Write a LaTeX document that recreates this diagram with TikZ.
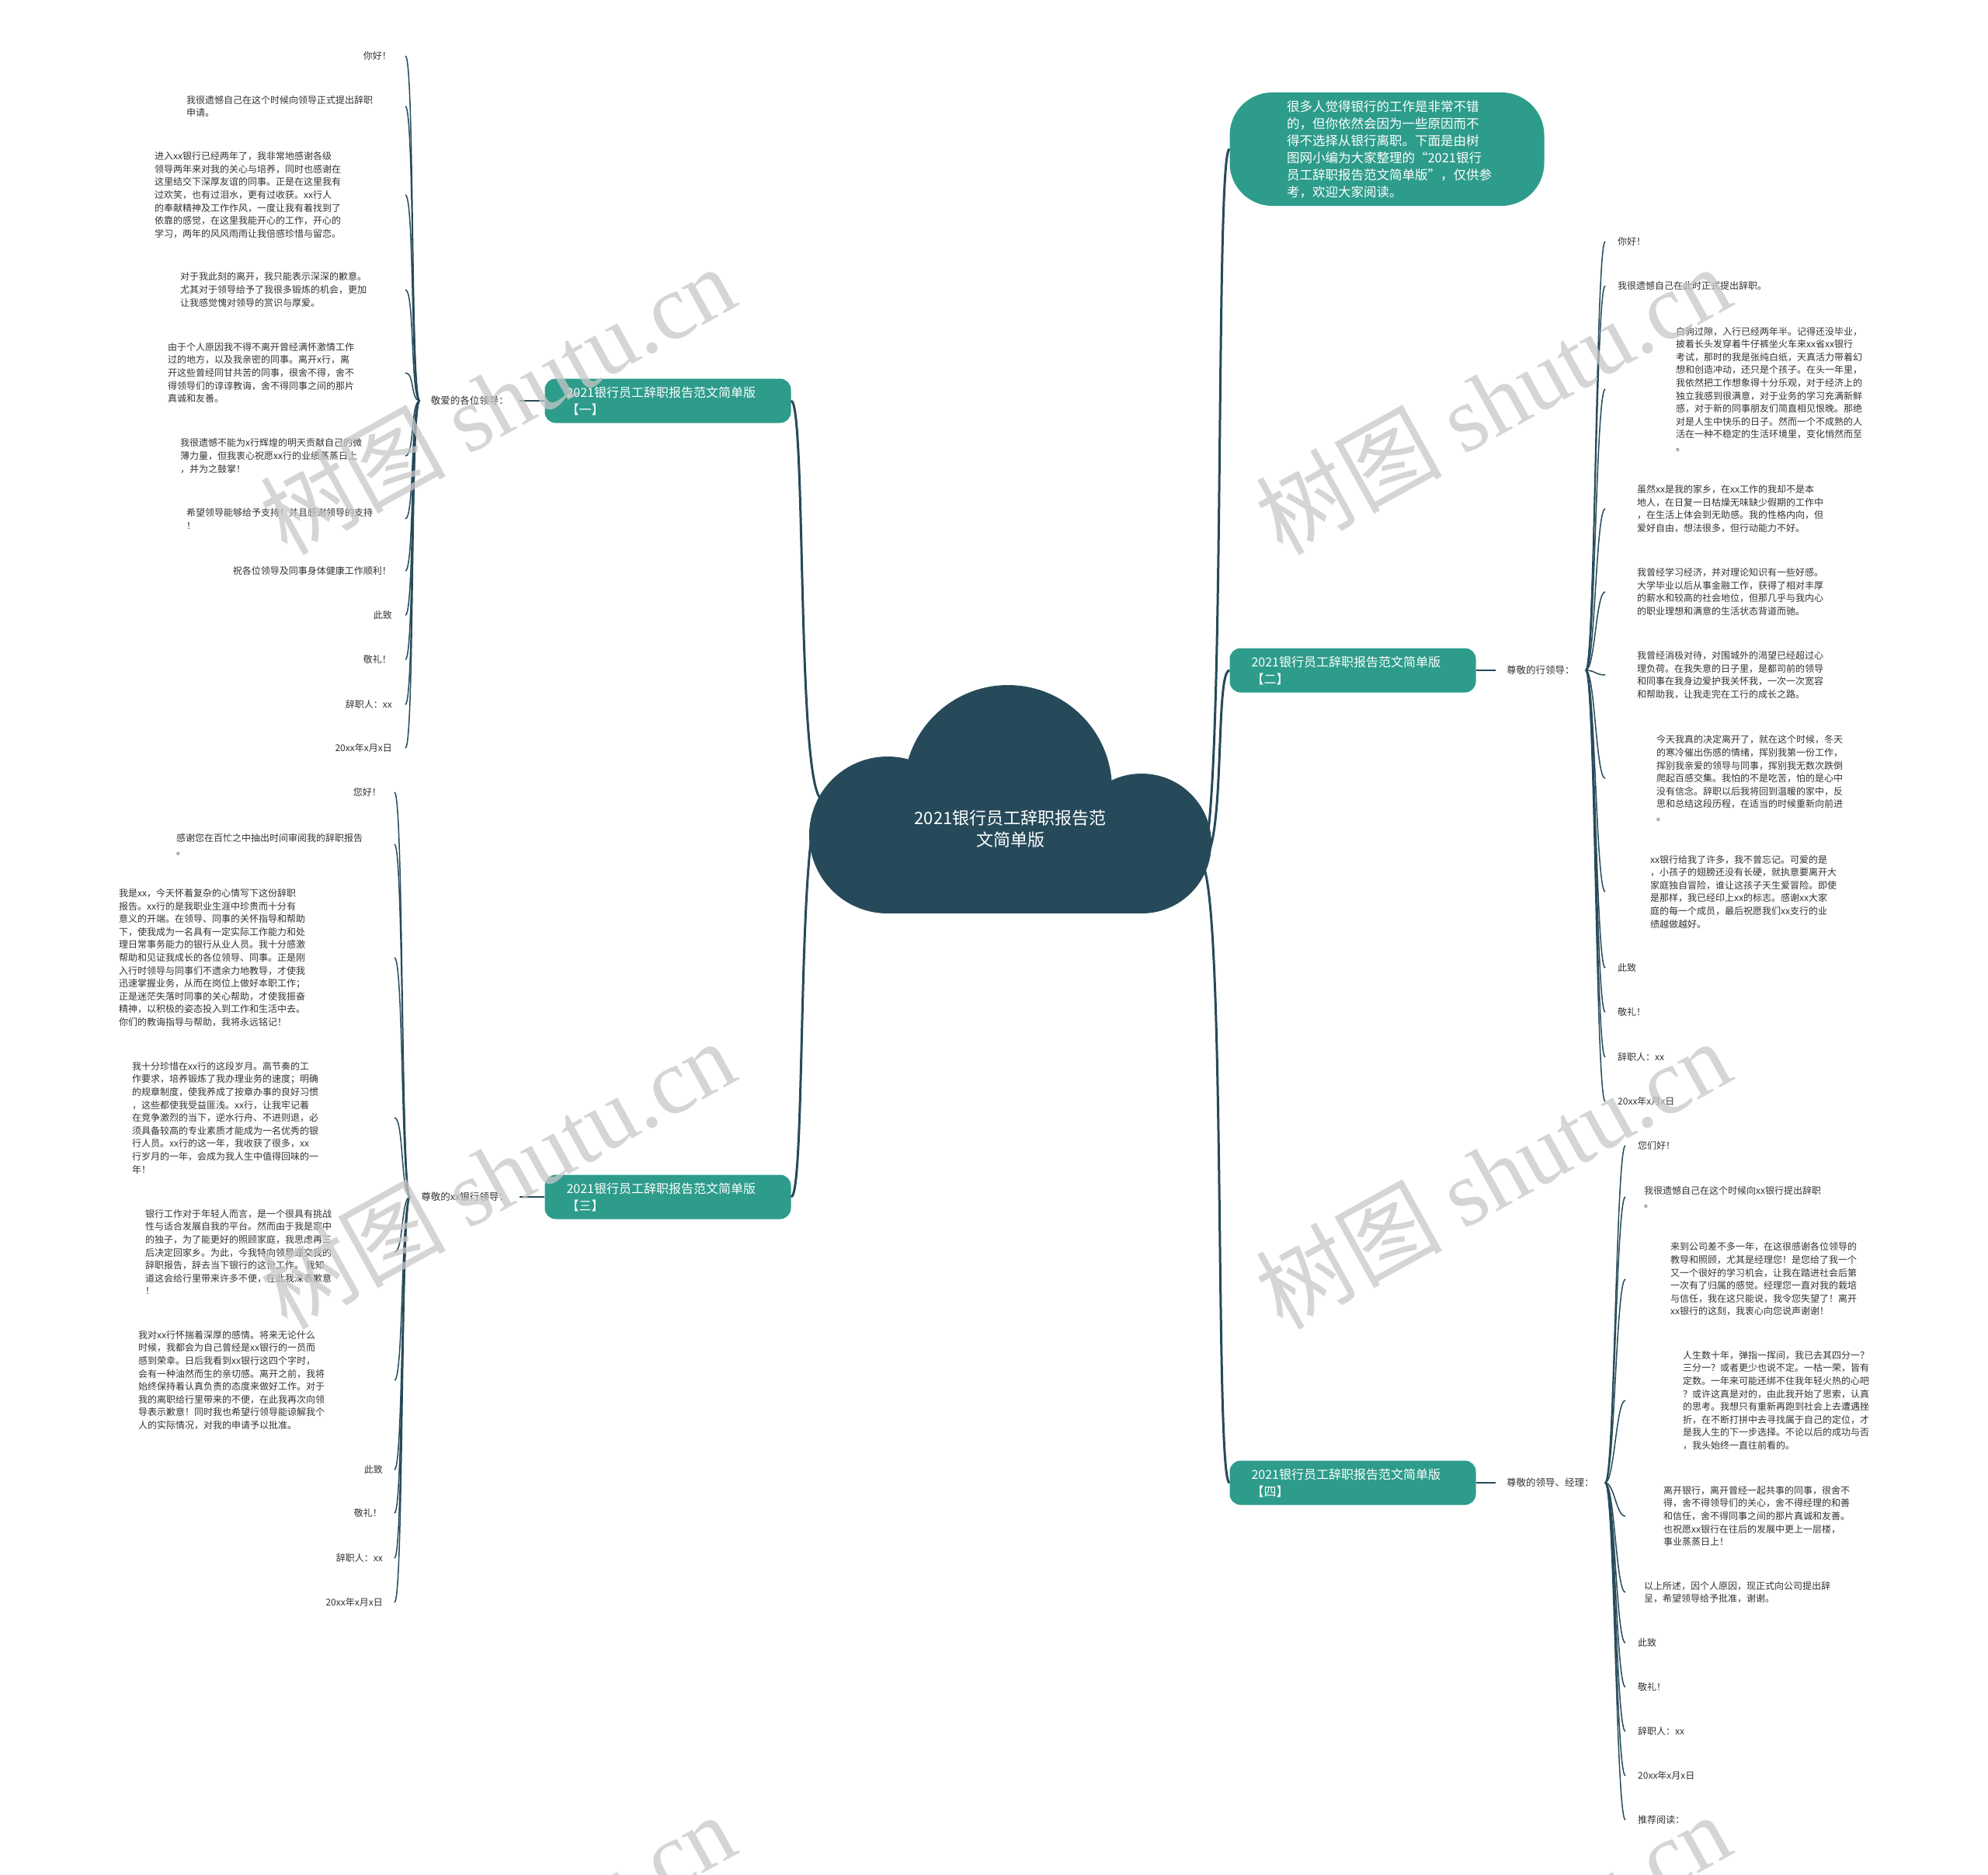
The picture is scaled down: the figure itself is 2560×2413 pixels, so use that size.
\documentclass[tikz,border=0pt]{standalone}
\usepackage{fontspec}
\setmainfont{Noto Sans CJK SC}
\newfontfamily\wmlatin{Liberation Serif}
\usetikzlibrary{calc}
\definecolor{cloudblue}{HTML}{264A5A}
\definecolor{branchteal}{HTML}{2D9C8B}
\definecolor{leafgray}{HTML}{333333}
\definecolor{wmgray}{HTML}{C8C8C8}
\tikzstyle{leaf}=[inner sep=0pt,text=leafgray,font=\fontsize{12}{16.6}\selectfont,align=left]
\tikzstyle{greet}=[leaf,anchor=east]
\tikzstyle{para}=[leaf,anchor=west]
\tikzstyle{salute}=[text=leafgray,font=\fontsize{12.5}{15}\selectfont,inner xsep=14pt,inner ysep=2pt]
\tikzstyle{branch}=[fill=branchteal,text=white,rounded corners=14pt,text width=261pt,inner xsep=28pt,
  minimum height=57pt,align=left,font=\fontsize{16}{22}\selectfont]
\tikzstyle{note}=[fill=branchteal,text=white,rounded corners=55pt,text width=258pt,minimum width=405pt,
  minimum height=146pt,align=left,font=\fontsize{16.5}{22}\selectfont]
\tikzstyle{limb}=[cloudblue,line width=3pt]
\tikzstyle{twig}=[cloudblue,line width=1.5pt]
\tikzstyle{watermark}=[wmgray,opacity=0.75,rotate=29,font=\fontsize{120}{120}\selectfont]
\newcommand{\twigsleft}[3]{
  \foreach \i in {1,...,#3} {
    \draw[twig] (#1.west) .. controls +(-12,0) and +(12,0) .. (#2 |- #1\i);
  }
}
\newcommand{\twigsright}[3]{
  \foreach \i in {1,...,#3} {
    \draw[twig] (#1.east) .. controls +(12,0) and +(-12,0) .. (#2 |- #1\i);
  }
}

\begin{document}
\begin{tikzpicture}[x=1pt,y=-1pt]
\useasboundingbox (0,0) rectangle (2560,2413);
\fill[white] (0,0) rectangle (2560,2413);

% branches
\node[note] (intro) at (1786,192) {很多人觉得银行的工作是非常不错\\的，但你依然会因为一些原因而不\\得不选择从银行离职。下面是由树\\图网小编为大家整理的“2021银行\\员工辞职报告范文简单版”，仅供参\\考，欢迎大家阅读。};
\node[branch] (b1) at (860,516) {2021银行员工辞职报告范文简单版\\【一】};
\node[branch] (b2) at (1742,863) {2021银行员工辞职报告范文简单版\\【二】};
\node[branch] (b3) at (860,1541) {2021银行员工辞职报告范文简单版\\【三】};
\node[branch] (b4) at (1742,1909) {2021银行员工辞职报告范文简单版\\【四】};

\node[salute,anchor=east] (a) at (669,516) {敬爱的各位领导：};
\node[salute,anchor=east] (c) at (669,1541) {尊敬的xx银行领导：};
\node[salute,anchor=west] (d) at (1926,863) {尊敬的行领导：};
\node[salute,anchor=west] (e) at (1926,1909) {尊敬的领导、经理：};
\draw[twig] (b1.west) -- (a.east);
\draw[twig] (b3.west) -- (c.east);
\draw[twig] (b2.east) -- (d.west);
\draw[twig] (b4.east) -- (e.west);

\coordinate (railA) at (522,0);
\coordinate (railC) at (508,0);
\coordinate (railD) at (2067,0);
\coordinate (railE) at (2093,0);

% branch one
\node[greet] (a1) at (504,72) {你好！};
\node[para] (a2) at (240,137) {我很遗憾自己在这个时候向领导正式提出辞职\\申请。};
\node[para] (a3) at (199,251) {进入xx银行已经两年了，我非常地感谢各级\\领导两年来对我的关心与培养，同时也感谢在\\这里结交下深厚友谊的同事。正是在这里我有\\过欢笑，也有过泪水，更有过收获。xx行人\\的奉献精神及工作作风，一度让我有着找到了\\依靠的感觉，在这里我能开心的工作，开心的\\学习，两年的风风雨雨让我倍感珍惜与留恋。};
\node[para] (a4) at (232,373) {对于我此刻的离开，我只能表示深深的歉意。\\尤其对于领导给予了我很多锻炼的机会，更加\\让我感觉愧对领导的赏识与厚爱。};
\node[para] (a5) at (216,480) {由于个人原因我不得不离开曾经满怀激情工作\\过的地方，以及我亲密的同事。离开x行，离\\开这些曾经同甘共苦的同事，很舍不得，舍不\\得领导们的谆谆教诲，舍不得同事之间的那片\\真诚和友善。};
\node[para] (a6) at (232,587) {我很遗憾不能为x行辉煌的明天贡献自己的微\\薄力量，但我衷心祝愿xx行的业绩蒸蒸日上\\，并为之鼓掌！};
\node[para] (a7) at (240,668) {希望领导能够给予支持！并且感谢领导的支持\\！};
\node[greet] (a8) at (504,735) {祝各位领导及同事身体健康工作顺利！};
\node[greet] (a9) at (505,792) {此致};
\node[greet] (a10) at (504,849) {敬礼！};
\node[greet] (a11) at (505,907) {辞职人：xx};
\node[greet] (a12) at (505,963) {20xx年x月x日};
\twigsleft{a}{railA}{12}

% branch three
\node[greet] (c1) at (491,1020) {您好！};
\node[para] (c2) at (227,1087) {感谢您在百忙之中抽出时间审阅我的辞职报告\\。};
\node[para] (c3) at (153,1233) {我是xx，今天怀着复杂的心情写下这份辞职\\报告。xx行的是我职业生涯中珍贵而十分有\\意义的开端。在领导、同事的关怀指导和帮助\\下，使我成为一名具有一定实际工作能力和处\\理日常事务能力的银行从业人员。我十分感激\\帮助和见证我成长的各位领导、同事。正是刚\\入行时领导与同事们不遗余力地教导，才使我\\迅速掌握业务，从而在岗位上做好本职工作；\\正是迷茫失落时同事的关心帮助，才使我振奋\\精神，以积极的姿态投入到工作和生活中去。\\你们的教诲指导与帮助，我将永远铭记！};
\node[para] (c4) at (170,1439) {我十分珍惜在xx行的这段岁月。高节奏的工\\作要求，培养锻炼了我办理业务的速度；明确\\的规章制度，使我养成了按章办事的良好习惯\\，这些都使我受益匪浅。xx行，让我牢记着\\在竞争激烈的当下，逆水行舟、不进则退，必\\须具备较高的专业素质才能成为一名优秀的银\\行人员。xx行的这一年，我收获了很多，xx\\行岁月的一年，会成为我人生中值得回味的一\\年！};
\node[para] (c5) at (187,1612) {银行工作对于年轻人而言，是一个很具有挑战\\性与适合发展自我的平台。然而由于我是家中\\的独子，为了能更好的照顾家庭，我思虑再三\\后决定回家乡。为此，今我特向领导递交我的\\辞职报告，辞去当下银行的这份工作。 我知\\道这会给行里带来许多不便，在此我深表歉意\\！};
\node[para] (c6) at (178,1777) {我对xx行怀揣着深厚的感情。将来无论什么\\时候，我都会为自己曾经是xx银行的一员而\\感到荣幸。日后我看到xx银行这四个字时，\\会有一种油然而生的亲切感。离开之前，我将\\始终保持着认真负责的态度来做好工作。对于\\我的离职给行里带来的不便，在此我再次向领\\导表示歉意！同时我也希望行领导能谅解我个\\人的实际情况，对我的申请予以批准。};
\node[greet] (c7) at (493,1892) {此致};
\node[greet] (c8) at (492,1948) {敬礼！};
\node[greet] (c9) at (493,2006) {辞职人：xx};
\node[greet] (c10) at (493,2063) {20xx年x月x日};
\twigsleft{c}{railC}{10}

% branch two
\node[para] (d1) at (2083,311) {你好！};
\node[para] (d2) at (2083,368) {我很遗憾自己在此时正式提出辞职。};
\node[para] (d3) at (2158,501) {白驹过隙，入行已经两年半。记得还没毕业，\\披着长头发穿着牛仔裤坐火车来xx省xx银行\\考试，那时的我是张纯白纸，天真活力带着幻\\想和创造冲动，还只是个孩子。在头一年里，\\我依然把工作想象得十分乐观，对于经济上的\\独立我感到很满意，对于业务的学习充满新鲜\\感，对于新的同事朋友们简直相见恨晚。那绝\\对是人生中快乐的日子。然而一个不成熟的人\\活在一种不稳定的生活环境里，变化悄然而至\\。};
\node[para] (d4) at (2108,655) {虽然xx是我的家乡，在xx工作的我却不是本\\地人，在日复一日枯燥无味缺少假期的工作中\\，在生活上体会到无助感。我的性格内向，但\\爱好自由，想法很多，但行动能力不好。};
\node[para] (d5) at (2108,762) {我曾经学习经济，并对理论知识有一些好感。\\大学毕业以后从事金融工作，获得了相对丰厚\\的薪水和较高的社会地位，但那几乎与我内心\\的职业理想和满意的生活状态背道而驰。};
\node[para] (d6) at (2108,869) {我曾经消极对待，对围城外的渴望已经超过心\\理负荷。在我失意的日子里，是都司前的领导\\和同事在我身边爱护我关怀我，一次一次宽容\\和帮助我，让我走完在工行的成长之路。};
\node[para] (d7) at (2133,1002) {今天我真的决定离开了，就在这个时候，冬天\\的寒冷催出伤感的情绪，挥别我第一份工作，\\挥别我亲爱的领导与同事，挥别我无数次跌倒\\爬起百感交集。我怕的不是吃苦，怕的是心中\\没有信念。辞职以后我将回到温暖的家中，反\\思和总结这段历程，在适当的时候重新向前进\\。};
\node[para] (d8) at (2125,1148) {xx银行给我了许多，我不曾忘记。可爱的是\\，小孩子的翅膀还没有长硬，就执意要离开大\\家庭独自冒险，谁让这孩子天生爱冒险。即使\\是那样，我已经印上xx的标志。感谢xx大家\\庭的每一个成员，最后祝愿我们xx支行的业\\绩越做越好。};
\node[para] (d9) at (2083,1246) {此致};
\node[para] (d10) at (2083,1303) {敬礼！};
\node[para] (d11) at (2083,1361) {辞职人：xx};
\node[para] (d12) at (2083,1418) {20xx年x月x日};
\twigsright{d}{railD}{12}

% branch four
\node[para] (e1) at (2109,1475) {您们好！};
\node[para] (e2) at (2117,1541) {我很遗憾自己在这个时候向xx银行提出辞职\\。};
\node[para] (e3) at (2151,1647) {来到公司差不多一年，在这很感谢各位领导的\\教导和照顾，尤其是经理您！是您给了我一个\\又一个很好的学习机会，让我在踏进社会后第\\一次有了归属的感觉。经理您一直对我的栽培\\与信任，我在这只能说，我令您失望了！离开\\xx银行的这刻，我衷心向您说声谢谢！};
\node[para] (e4) at (2167,1803) {人生数十年，弹指一挥间，我已去其四分一？\\三分一？或者更少也说不定。一枯一荣，皆有\\定数。一年来可能还绑不住我年轻火热的心吧\\？或许这真是对的，由此我开始了思索，认真\\的思考。我想只有重新再跑到社会上去遭遇挫\\折，在不断打拼中去寻找属于自己的定位，才\\是我人生的下一步选择。不论以后的成功与否\\，我头始终一直往前看的。};
\node[para] (e5) at (2142,1952) {离开银行，离开曾经一起共事的同事，很舍不\\得，舍不得领导们的关心，舍不得经理的和善\\和信任，舍不得同事之间的那片真诚和友善。\\也祝愿xx银行在往后的发展中更上一层楼，\\事业蒸蒸日上！};
\node[para] (e6) at (2117,2050) {以上所述，因个人原因，现正式向公司提出辞\\呈，希望领导给予批准，谢谢。};
\node[para] (e7) at (2109,2115) {此致};
\node[para] (e8) at (2109,2172) {敬礼！};
\node[para] (e9) at (2109,2229) {辞职人：xx};
\node[para] (e10) at (2109,2286) {20xx年x月x日};
\node[para] (e11) at (2109,2343) {推荐阅读：};
\twigsright{e}{railE}{11}

% limbs from the cloud
\coordinate (cloudL) at (1060,1030);
\coordinate (cloudR) at (1545,1110);
\draw[limb] (cloudL) .. controls +(-35,0) and +(20,0) .. (b1.east);
\draw[limb] (cloudL) .. controls +(-35,0) and +(20,0) .. (b3.east);
\draw[limb] (cloudR) .. controls +(35,0) and +(-20,0) .. (intro.west);
\draw[limb] (cloudR) .. controls +(35,0) and +(-20,0) .. (b2.west);
\draw[limb] (cloudR) .. controls +(35,0) and +(-20,0) .. (b4.west);

% cloud
\fill[cloudblue] (1298,1016) circle (134pt);
\fill[cloudblue] (1143,1075) circle (101pt);
\fill[cloudblue] (1470,1086) circle (90pt);
\fill[cloudblue] (1143,1040) rectangle (1470,1176);
\node[text=white,align=center,font=\fontsize{22}{28}\selectfont] (hub) at (1301,1067) {2021银行员工辞职报告范\\文简单版};

% watermarks
\begin{scope}
\clip (0,0) rectangle (2560,2413);
\foreach \wx in {640,1922} {
  \foreach \wy in {514,1511,2507} {
    \node[watermark] at (\wx,\wy) {树图 {\wmlatin shutu.cn}};
  }
}
\end{scope}
\end{tikzpicture}
\end{document}
